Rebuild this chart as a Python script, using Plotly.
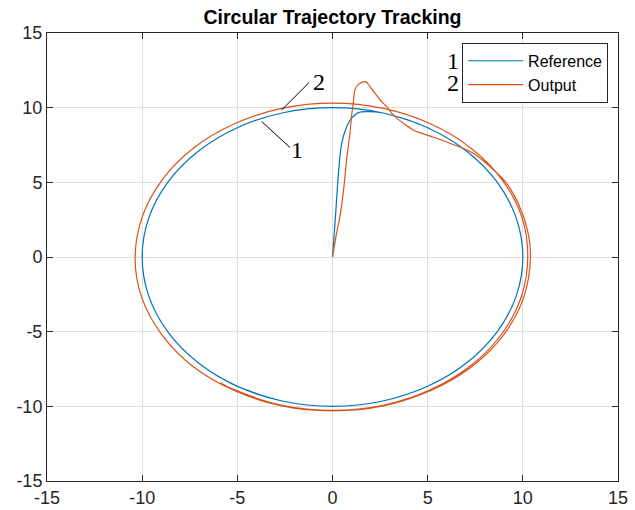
import plotly.graph_objects as go

# ---- data ----
ref_x = [0.00, 0.18, 0.30, 0.48, 0.74, 1.00, 1.36, 1.80, 2.59, 5.00, 7.07, 8.66, 9.66, 10.00,
         9.66, 8.66, 7.07, 5.00, 2.59, 0.00, -2.59, -5.00, -7.07, -8.66, -9.66, -10.00,
         -9.66, -8.66, -7.07, -5.00, -2.59, 0.00, 2.59, 5.00, 7.07, 8.66, 9.66, 10.00,
         9.66, 8.66, 7.07, 5.00, 2.59, 0.00, -2.59, -5.00, -5.74]
ref_y = [0.00, 3.16, 5.40, 7.60, 8.70, 9.30, 9.67, 9.74, 9.66, 8.66, 7.07, 5.00, 2.59, 0.00,
         -2.59, -5.00, -7.07, -8.66, -9.66, -10.00, -9.66, -8.66, -7.07, -5.00, -2.59, 0.00,
         2.59, 5.00, 7.07, 8.66, 9.66, 10.00, 9.66, 8.66, 7.07, 5.00, 2.59, 0.00,
         -2.59, -5.00, -7.07, -8.66, -9.66, -10.00, -9.66, -8.66, -8.19]

out_x = [0.00, 0.20, 0.39, 0.60, 0.74, 0.90, 1.00, 1.10, 1.18, 1.36, 1.74, 1.97, 2.23, 2.58,
         2.85, 3.11, 3.37, 3.72, 4.24, 4.94, 6.17, 7.39, 8.27, 9.14, 9.77, 10.24, 10.40,
         10.05, 9.00, 7.33, 5.16, 2.67, 0.00, -2.67, -5.16, -7.33, -8.98, -10.03, -10.37,
         -10.00, -8.95, -7.30, -5.15, -2.67, 0.00, 2.67, 5.15, 7.28, 8.92, 9.95, 10.26,
         9.92, 8.90, 7.27, 5.14, 2.66, 0.00, -2.66, -5.14, -5.90]
out_y = [0.00, 1.50, 2.70, 4.70, 6.50, 8.10, 9.40, 10.40, 11.20, 11.56, 11.74, 11.41, 10.97, 10.41,
         10.07, 9.63, 9.30, 8.96, 8.51, 8.18, 7.62, 6.95, 6.06, 4.95, 3.56, 1.81, 0.00,
         -2.69, -5.20, -7.33, -8.94, -9.97, -10.30, -9.97, -8.94, -7.33, -5.18, -2.69, -0.10,
         2.68, 5.17, 7.30, 8.92, 9.95, 10.30, 9.95, 8.92, 7.28, 5.15, 2.67, 0.00,
         -2.66, -5.14, -7.27, -8.90, -9.93, -10.27, -9.93, -8.90, -8.42]

tick_vals = [-15, -10, -5, 0, 5, 10, 15]
tick_text = ["-15", "-10", "-5", "0", "5", "10", "15"]

series_names = ["Reference", "Output"]
series_colors = ["#0072BD", "#D95319"]
series_numbers = ["1", "2"]

# callout annotations: (line start x, y, line end x, y, label x, y, label)
callouts = [
    (-3.72, 9.07, -2.23, 7.33, -1.86, 7.18, "1"),
    (-2.67, 9.85, -1.23, 11.68, -0.72, 11.70, "2"),
]
legend_number_pos = [(6.33, 13.15), (6.33, 11.66)]

fig = go.Figure()
for xs, ys, name, col in [(ref_x, ref_y, series_names[0], series_colors[0]),
                          (out_x, out_y, series_names[1], series_colors[1])]:
    fig.add_trace(go.Scatter(x=xs, y=ys, mode="lines", name=name,
                             line=dict(color=col, width=1.2, shape="spline", smoothing=0.9)))

for x0, y0, x1, y1, tx, ty, lab in callouts:
    fig.add_shape(type="line", x0=x0, y0=y0, x1=x1, y1=y1, xref="x", yref="y",
                  line=dict(color="black", width=1))
    fig.add_annotation(x=tx, y=ty, xref="x", yref="y", text=lab, showarrow=False,
                       font=dict(family="Liberation Serif", size=24, color="black"))

for (tx, ty), lab in zip(legend_number_pos, series_numbers):
    fig.add_annotation(x=tx, y=ty, xref="x", yref="y", text=lab, showarrow=False,
                       borderpad=0,
                       font=dict(family="Liberation Serif", size=24, color="black"))

axis_common = dict(
    range=[-15, 15], tickvals=tick_vals, ticktext=tick_text,
    showgrid=True, gridcolor="#dedede", gridwidth=1, zeroline=False,
    showline=True, linecolor="#262626", linewidth=1, mirror="allticks",
    ticks="inside", ticklen=6, tickcolor="#262626", automargin=False,
    tickfont=dict(family="Liberation Sans", size=18, color="#262626"),
)

fig.update_layout(
    width=635, height=510,
    margin=dict(l=47, r=17, t=33, b=29),
    paper_bgcolor="white", plot_bgcolor="white",
    title=dict(text="<b>Circular Trajectory Tracking</b>", x=0.5, xref="paper",
               y=1 - 17 / 510, yanchor="middle", xanchor="center",
               font=dict(family="Liberation Sans", size=19.5, color="black")),
    xaxis=axis_common,
    yaxis=axis_common,
    showlegend=True,
    legend=dict(x=0.727, y=0.978, xanchor="left", yanchor="top",
                bgcolor="white", bordercolor="#262626", borderwidth=1,
                font=dict(family="Liberation Sans", size=16, color="black"),
                itemwidth=55, tracegroupgap=0),
)

fig.write_html("out.html")
